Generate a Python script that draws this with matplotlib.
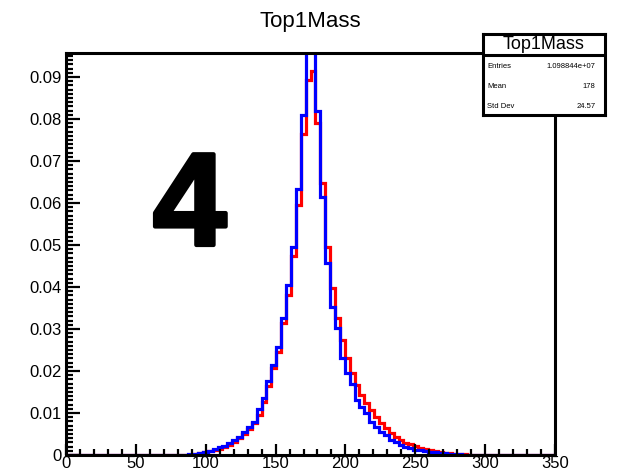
import numpy as np
import matplotlib
matplotlib.use("Agg")
import matplotlib.pyplot as plt
import matplotlib.patheffects as pe
from matplotlib.ticker import MultipleLocator

plt.rcParams['font.family'] = ['Liberation Sans', 'DejaVu Sans']

# histogram binning: 100 bins from 0 to 350
x_lo, x_hi, n_bins = 0, 350, 100

# red histogram (drawn first)
red = [
    0, 0, 0, 0, 0, 0, 0, 0, 0, 0,
    0, 0, 0, 0, 0, 0, 0, 0, 0, 0,
    0, 0, 0, 0, 0.0001, 0.0001, 0.0002, 0.0004, 0.0006, 0.0009,
    0.0012, 0.0015, 0.0019, 0.0024, 0.0031, 0.0040, 0.0050, 0.0061, 0.0075, 0.0095,
    0.0125, 0.0164, 0.0207, 0.0245, 0.0314, 0.0381, 0.0474, 0.0595, 0.0765, 0.0893,
    0.0914, 0.0790, 0.0648, 0.0496, 0.0398, 0.0326, 0.0273, 0.0230, 0.0195, 0.0167,
    0.0143, 0.0124, 0.0107, 0.0090, 0.0076, 0.0064, 0.0052, 0.0043, 0.0036, 0.0029,
    0.0025, 0.0021, 0.0017, 0.0014, 0.0011, 0.0009, 0.0007, 0.0005, 0.0004, 0.0003,
    0.0002, 0.0002, 0.0001, 0.0001, 0, 0, 0, 0, 0, 0,
    0, 0, 0, 0, 0, 0, 0, 0, 0, 0,
]

# blue histogram (drawn on top)
blue = [
    0, 0, 0, 0, 0, 0, 0, 0, 0, 0,
    0, 0, 0, 0, 0, 0, 0, 0, 0, 0,
    0, 0, 0, 0, 0.0001, 0.0002, 0.0003, 0.0005, 0.0007, 0.0010,
    0.0014, 0.0018, 0.0022, 0.0028, 0.0036, 0.0044, 0.0055, 0.0067, 0.0079, 0.0110,
    0.0135, 0.0177, 0.0215, 0.0257, 0.0326, 0.0405, 0.0496, 0.0634, 0.0810, 0.1000,
    0.0985, 0.0819, 0.0615, 0.0456, 0.0353, 0.0302, 0.0231, 0.0196, 0.0169, 0.0131,
    0.0115, 0.0099, 0.0079, 0.0067, 0.0055, 0.0048, 0.0036, 0.0032, 0.0024, 0.0020,
    0.0016, 0.0013, 0.0011, 0.0009, 0.0007, 0.0006, 0.0005, 0.0004, 0.0003, 0.0002,
    0.0002, 0.0001, 0.0001, 0, 0, 0, 0, 0, 0, 0,
    0, 0, 0, 0, 0, 0, 0, 0, 0, 0,
]

stat_names = ["Entries", "Mean", "Std Dev"]
stat_values = ["1.098844e+07", "178", "24.57"]

edges = np.linspace(x_lo, x_hi, n_bins + 1)

fig = plt.figure(figsize=(6.2, 4.76), dpi=100)
ax = fig.add_axes([66 / 620, 21 / 476, 489 / 620, 402 / 476])

ax.stairs(red, edges, color="red", lw=2.3)
ax.stairs(blue, edges, color="blue", lw=2.3)

ax.set_xlim(x_lo, x_hi)
ax.set_ylim(0, 0.0957)

ax.xaxis.set_major_locator(MultipleLocator(50))
ax.xaxis.set_minor_locator(MultipleLocator(10))
ax.yaxis.set_major_locator(MultipleLocator(0.01))
ax.yaxis.set_minor_locator(MultipleLocator(0.001))
ax.yaxis.set_major_formatter(lambda v, p: "0" if v == 0 else f"{v:.2f}")

ax.tick_params(which="both", direction="in", top=False, right=False,
               labelsize=12, width=1.6)
ax.tick_params(axis="x", which="major", length=8, pad=1)
ax.tick_params(axis="x", which="minor", length=4)
ax.tick_params(axis="y", which="major", length=10, pad=3)
ax.tick_params(axis="y", which="minor", length=5)
for s in ax.spines.values():
    s.set_linewidth(2.2)

fig.text(0.5, 1 - 22 / 476, "Top1Mass", ha="center", va="center", fontsize=16)

# big label
fig.text(153 / 620, 1 - 245 / 476, "4", fontsize=95, fontweight="bold",
         ha="left", va="baseline",
         path_effects=[pe.Stroke(linewidth=3, foreground="black"), pe.Normal()])

# stats box
sb = fig.add_axes([483 / 620, 1 - 115 / 476, 122 / 620, 81 / 476])
sb.set_xlim(0, 1)
sb.set_ylim(0, 1)
sb.set_xticks([])
sb.set_yticks([])
for s in sb.spines.values():
    s.set_linewidth(2.2)
div = (115 - 55) / 81
sb.axhline(div, color="black", lw=2.2)
sb.text(0.5, (div + 1) / 2, "Top1Mass", ha="center", va="center", fontsize=13)
row_y = [1 - (66.7 - 34) / 81, 1 - (86.7 - 34) / 81, 1 - (107 - 34) / 81]
for name, val, yy in zip(stat_names, stat_values, row_y):
    sb.text(0.035, yy, name, ha="left", va="center", fontsize=5.5)
    sb.text(0.92, yy, val, ha="right", va="center", fontsize=5.5)

fig.savefig("out.png", dpi=100)
